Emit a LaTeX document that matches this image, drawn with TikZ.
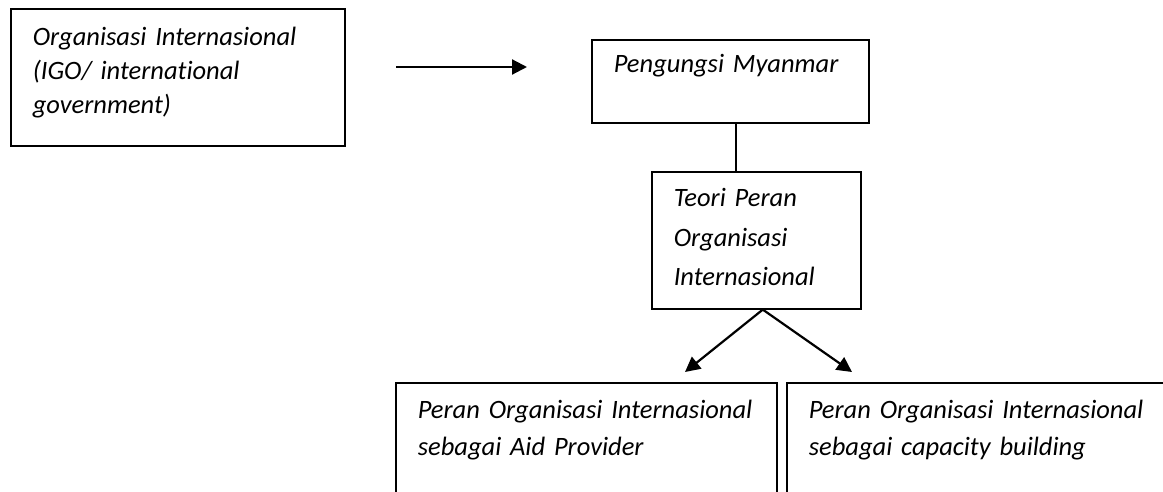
\documentclass[tikz,border=0pt]{standalone}
\usepackage{fontspec}
\setmainfont[Ligatures = NoCommon]{Carlito}
\usetikzlibrary{positioning,arrows.meta}

\tikzset{
  kotak/.style = {draw, line width = 1.6pt, anchor = north west, align = left,
                  inner xsep = 22pt, inner ysep = 0pt,
                  font = \itshape\fontsize{26.5}{34}\selectfont},
  panah/.style = {line width = 2.2pt, -{Triangle[length = 15pt, width = 15pt]}}
}

\begin{document}
\begin{tikzpicture}[x = 1pt, y = -1pt]
\useasboundingbox (0,0) rectangle (1163,492);
\clip (0,0) rectangle (1163,492);

% kotak-kotak
\node[kotak, text width = 290pt, text height = 37pt, text depth = 100pt] (igo) at (10,8)
  {Organisasi Internasional\\(IGO/ international\\government)};
\node[kotak, text width = 233pt, text height = 33pt, text depth = 50pt] (pengungsi) at (591,39)
  {Pengungsi Myanmar};
\node[kotak, text width = 165pt, text height = 35pt, text depth = 102pt,
      font = \itshape\fontsize{26.5}{39.5}\selectfont] (teori) at (651,171)
  {Teori Peran\\Organisasi\\Internasional};
\node[kotak, text width = 337pt, text height = 36pt, text depth = 200pt,
      font = \itshape\fontsize{26.5}{37}\selectfont] (aid) at (395,382)
  {Peran Organisasi Internasional\\sebagai Aid Provider};
\node[kotak, text width = 376pt, text height = 36pt, text depth = 200pt,
      font = \itshape\fontsize{26.5}{37}\selectfont] (capacity) at (786,382)
  {Peran Organisasi Internasional\\sebagai capacity building};

% penghubung
\coordinate (panah awal) at (396,67);
\coordinate (panah akhir) at (527,67);
\coordinate (ujung kiri) at (685,372);
\coordinate (ujung kanan) at (852,372);
\draw[panah] (panah awal) -- (panah akhir);
\draw[line width = 2.2pt] ([xshift = 5.5pt]pengungsi.south) -- ([xshift = 5.5pt]pengungsi.south |- teori.north);
\draw[panah] ([xshift = 6.5pt]teori.south) -- (ujung kiri);
\draw[panah] ([xshift = 6.5pt]teori.south) -- (ujung kanan);
\end{tikzpicture}
\end{document}
